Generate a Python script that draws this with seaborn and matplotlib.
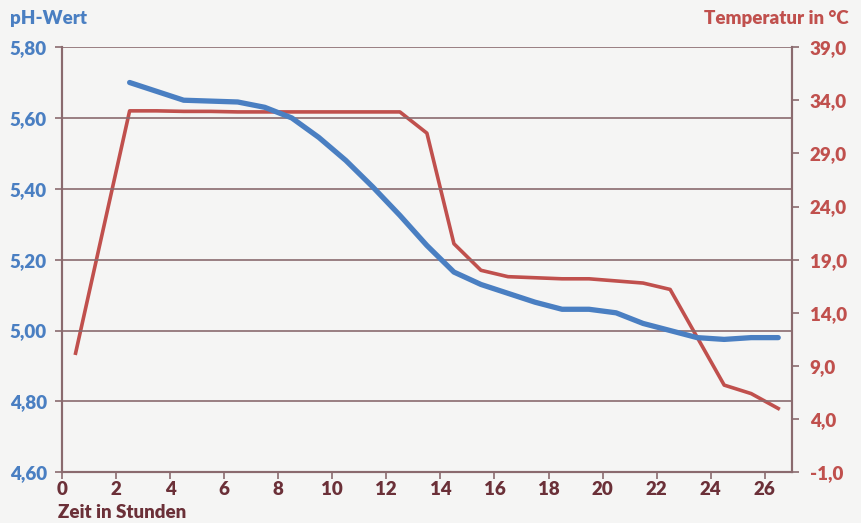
import matplotlib
matplotlib.use('Agg')
import matplotlib.pyplot as plt
import seaborn as sns
from matplotlib.ticker import FuncFormatter

# pH-Wert (blue line)
ph_hours = [2.5, 4.5, 6.5, 7.5, 8.5, 9.5, 10.5, 11.5, 12.5, 13.5, 14.5, 15.5,
            16.5, 17.5, 18.5, 19.5, 20.5, 21.5, 22.5, 23.5, 24.5, 25.5, 26.5]
ph_values = [5.70, 5.65, 5.645, 5.63, 5.60, 5.545, 5.48, 5.405, 5.325, 5.24, 5.165, 5.13,
             5.105, 5.08, 5.06, 5.06, 5.05, 5.02, 5.00, 4.98, 4.975, 4.98, 4.98]

# Temperatur (red line)
temp_hours = [0.5, 2.5, 3.5, 4.5, 5.5, 6.5, 7.5, 8.5, 9.5, 10.5, 11.5, 12.5, 13.5,
              14.5, 15.5, 16.5, 17.5, 18.5, 19.5, 20.5, 21.5, 22.5, 23.5, 24.5, 25.5, 26.5]
temp_values = [10.2, 33.0, 33.0, 32.95, 32.95, 32.9, 32.9, 32.9, 32.9, 32.9, 32.9, 32.9, 30.9,
               20.5, 18.0, 17.4, 17.3, 17.2, 17.2, 17.0, 16.8, 16.2, 11.7, 7.2, 6.4, 5.0]

ph_ticks = [4.6, 4.8, 5.0, 5.2, 5.4, 5.6, 5.8]
temp_ticks = [-1, 4, 9, 14, 19, 24, 29, 34, 39]
hour_ticks = list(range(0, 27, 2))

blue = '#4a7fc2'
red = '#c0504d'
brown = '#6b3038'
grid_col = '#8a6a6e'
bg = '#f5f5f4'

plt.rcParams['font.family'] = ['Lato', 'DejaVu Sans']
plt.rcParams['font.weight'] = 'heavy'

fig = plt.figure(figsize=(8.62, 5.23), dpi=100, facecolor=bg)
ax = fig.add_axes([0.072, 0.097, 0.8465, 0.813])
ax2 = ax.twinx()
ax.set_zorder(ax2.get_zorder() + 1)
ax.patch.set_visible(False)
ax2.set_facecolor(bg)

sns.lineplot(x=temp_hours, y=temp_values, ax=ax2, color=red, linewidth=2.6)
sns.lineplot(x=ph_hours, y=ph_values, ax=ax, color=blue, linewidth=3.8,
             solid_capstyle='round')

ax.set_xlim(0, 27)
ax.set_ylim(4.6, 5.8)
ax2.set_ylim(-1, 39)
ax.set_xticks(hour_ticks)
ax.set_yticks(ph_ticks)
ax2.set_yticks(temp_ticks)

ax.yaxis.set_major_formatter(FuncFormatter(lambda v, p: f'{v:.2f}'.replace('.', ',')))
ax2.yaxis.set_major_formatter(FuncFormatter(lambda v, p: f'{v:.1f}'.replace('.', ',')))

ax.grid(axis='y', color=grid_col, linewidth=1.2)
ax.grid(axis='x', visible=False)
ax.set_axisbelow(True)

for a in (ax, ax2):
    for side in a.spines:
        a.spines[side].set_color(grid_col)
        a.spines[side].set_linewidth(1.5)
    a.spines['top'].set_visible(False)

ax.tick_params(axis='y', colors=grid_col, labelcolor=blue, labelsize=13.5, length=5, width=1.2, pad=6)
ax.tick_params(axis='x', colors=grid_col, labelcolor=brown, labelsize=13.5, length=5, width=1.2, pad=1)
ax2.tick_params(axis='y', colors=grid_col, labelcolor=red, labelsize=13.5, length=5, width=1.2, pad=8)

ax.set_xlabel('')
ax.set_ylabel('')
ax2.set_ylabel('')

fig.text(0.012, 0.965, 'pH-Wert', color=blue, fontsize=13.5, fontweight='heavy', va='center', ha='left')
fig.text(0.985, 0.965, 'Temperatur in °C', color=red, fontsize=13.5, fontweight='heavy', va='center', ha='right')
fig.text(0.067, 0.003, 'Zeit in Stunden', color=brown, fontsize=13.5, fontweight='heavy', va='bottom', ha='left')

fig.savefig('out.png', dpi=100, facecolor=bg)
